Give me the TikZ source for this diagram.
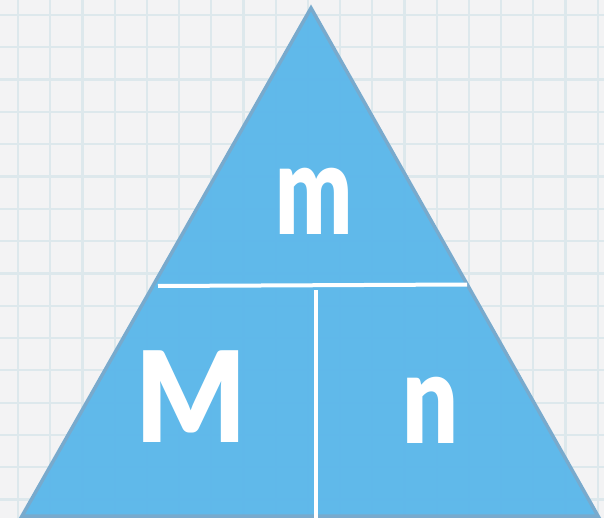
\documentclass[tikz,border=0pt]{standalone}
\usepackage{fontspec}
\setmainfont{Lato}[BoldFont={Lato Black}]
\usepackage{tikz}
\usetikzlibrary{positioning, calc}
\definecolor{fondo}{HTML}{F3F3F4}
\definecolor{rejilla}{HTML}{DDE8EC}
\definecolor{azulrelleno}{HTML}{5BB7EA}
\definecolor{azulborde}{HTML}{78AACD}

\begin{document}
\begin{tikzpicture}[
  x=1pt, y=-1pt,
  tri/.style={
    fill=azulrelleno, fill opacity=0.96,
    draw=azulborde, line width=3.5pt, line join=miter
  },
  sep/.style={draw=white, line width=4pt},
  letra/.style={
    text=white, inner sep=0pt,
    font=\fontsize{126}{126}\selectfont\bfseries
  }
]
  \useasboundingbox (0,0) rectangle (604,518);
  \fill[fondo] (0,0) rectangle (604,518);

  % papel cuadriculado
  \foreach \i in {0,...,18}
    \draw[rejilla, line width=2.2pt] (18+32.2*\i,0) -- (18+32.2*\i,518);
  \foreach \j in {0,...,15}
    \draw[rejilla, line width=2.2pt] (0,15+32.3*\j) -- (604,15+32.3*\j);

  \coordinate (cima) at (311,8);
  \coordinate (izq)  at (22,516);
  \coordinate (der)  at (598,516);
  \draw[tri] (cima) -- (izq) -- (der) -- cycle;

  \coordinate (hizq) at (158,286);
  \coordinate (hder) at (467,284.5);
  \coordinate (varr) at (316,290);
  \coordinate (vaba) at (316,518);
  \draw[sep] (hizq) -- (hder);
  \draw[sep] (varr) -- (vaba);

  \node[letra] (masa)  at (314,201) {\scalebox{0.72}[1]{m}};
  \node[letra] (molar) at (191,397) {\scalebox{0.92}[1]{M}};
  \node[letra] (moles) at (431,410) {\scalebox{0.78}[1]{n}};
\end{tikzpicture}
\end{document}
